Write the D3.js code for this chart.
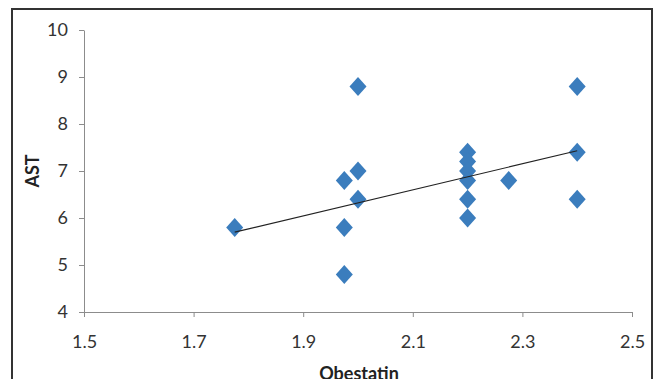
<!DOCTYPE html>
<html>
<head>
<meta charset="utf-8">
<script src="https://cdn.jsdelivr.net/npm/d3@7"></script>
<style>
  body { margin: 0; background: #fff; }
  #view text { font-family: Lato, "Liberation Sans Narrow", sans-serif; }
</style>
</head>
<body>
<div id="view"></div>
<script>
// values
const obestatin = [1.775, 1.975, 1.975, 1.975, 2.0, 2.0, 2.0, 2.2, 2.2, 2.2, 2.2, 2.2, 2.2, 2.275, 2.4, 2.4, 2.4];
const ast       = [5.8, 6.8, 5.8, 4.8, 8.8, 7.0, 6.4, 7.4, 7.2, 7.0, 6.8, 6.4, 6.0, 6.8, 8.8, 7.4, 6.4];
const trendX = [1.775, 2.4];
const trendY = [5.7, 7.43];
const xTicks = [1.5, 1.7, 1.9, 2.1, 2.3, 2.5];
const yTicks = [4, 5, 6, 7, 8, 9, 10];

const width = 655, height = 379;
const svg = d3.select('#view').append('svg')
    .attr('width', width)
    .attr('height', height);

// outer frame
svg.append('rect')
    .attr('x', 12).attr('y', 9)
    .attr('width', 640).attr('height', 390)
    .attr('fill', '#fff')
    .attr('stroke', '#333')
    .attr('stroke-width', 2);

const mapX = d3.scaleLinear().domain([1.5, 2.5]).range([84, 632]);
const mapY = d3.scaleLinear().domain([4, 10]).range([312, 30]);

const xAxis = d3.axisBottom(mapX).tickValues(xTicks).tickFormat(d3.format('.1f')).tickSize(5).tickSizeOuter(0);
const gx = svg.append('g')
    .attr('transform', `translate(0, ${mapY(4)})`)
    .call(xAxis);

const yAxis = d3.axisLeft(mapY).tickValues(yTicks).tickFormat(d3.format('d')).tickSize(5).tickSizeOuter(0);
const gy = svg.append('g')
    .attr('transform', `translate(${mapX(1.5)}, 0)`)
    .call(yAxis);

[gx, gy].forEach(g => {
    g.select('.domain').attr('stroke', '#8c8c8c');
    g.selectAll('.tick line').attr('stroke', '#8c8c8c');
    g.selectAll('.tick text').attr('fill', '#333').style('font-size', '18px');
});
gx.selectAll('.tick text').attr('dy', '1.55em');
gy.selectAll('.tick text').attr('x', -16);

// points
const pts = obestatin.map((x, i) => ({x: x, y: ast[i]}));
svg.selectAll('path.pt')
    .data(pts)
    .enter()
    .append('path')
    .attr('class', 'pt')
    .attr('d', 'M0,-9.5L8.5,0L0,9.5L-8.5,0Z')
    .attr('transform', d => `translate(${mapX(d.x)}, ${mapY(d.y)})`)
    .attr('fill', '#3b7dbd');

// trendline over the points
svg.append('line')
    .attr('x1', mapX(trendX[0])).attr('y1', mapY(trendY[0]))
    .attr('x2', mapX(trendX[1])).attr('y2', mapY(trendY[1]))
    .attr('stroke', '#222')
    .attr('stroke-width', 1.2);

svg.append('text')
    .attr('transform', `translate(39, ${mapY(7)}) rotate(-90)`)
    .attr('text-anchor', 'middle')
    .style('font-size', '18px')
    .style('font-weight', 'bold')
    .attr('fill', '#222')
    .text('AST');

svg.append('text')
    .attr('x', (mapX(1.5) + mapX(2.5)) / 2 + 1)
    .attr('y', 380)
    .attr('text-anchor', 'middle')
    .style('font-size', '18px')
    .style('font-weight', 'bold')
    .attr('fill', '#222')
    .text('Obestatin');
</script>
</body>
</html>
